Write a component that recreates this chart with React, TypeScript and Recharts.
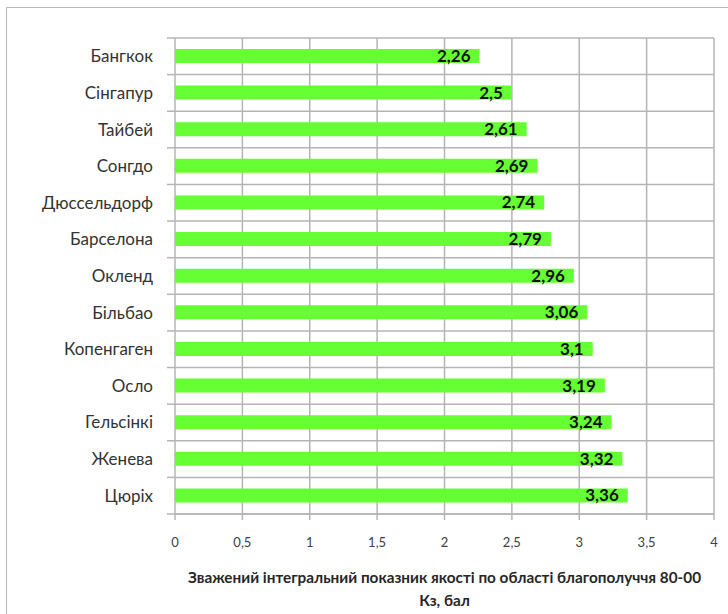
import {
  BarChart,
  Bar,
  XAxis,
  YAxis,
  CartesianGrid,
  LabelList,
  Label,
  usePlotArea,
} from "recharts";

const cities = [
  "Бангкок",
  "Сінгапур",
  "Тайбей",
  "Сонгдо",
  "Дюссельдорф",
  "Барселона",
  "Окленд",
  "Більбао",
  "Копенгаген",
  "Осло",
  "Гельсінкі",
  "Женева",
  "Цюріх",
];

const scores = [2.26, 2.5, 2.61, 2.69, 2.74, 2.79, 2.96, 3.06, 3.1, 3.19, 3.24, 3.32, 3.36];

const xTicks = [0, 0.5, 1, 1.5, 2, 2.5, 3, 3.5, 4];

const titleLines = [
  "Зважений інтегральний показник якості по області благополуччя 80-00",
  "Кз, бал",
];

const data = cities.map((city, i) => ({ city, score: scores[i] }));

const FONT = "Lato, 'Open Sans', sans-serif";
const GRID = "#b4b4b4";

// comma decimal separator
const fmt = (v: number | string) => String(v).replace(".", ",");

// grid lines between categories rather than through their centres
function bandEdges({ offset }: any) {
  const step = offset.height / cities.length;
  return Array.from({ length: cities.length + 1 }, (_, i) => offset.top + i * step);
}

// short outward ticks on the category axis, at the band edges
function CategoryTicks() {
  const area = usePlotArea();
  if (!area) return null;
  const step = area.height / cities.length;
  return (
    <g>
      {Array.from({ length: cities.length + 1 }, (_, i) => {
        const y = area.y + i * step;
        return (
          <line
            key={i}
            x1={area.x - 8}
            x2={area.x}
            y1={y}
            y2={y}
            stroke={GRID}
            strokeWidth={1.5}
          />
        );
      })}
    </g>
  );
}

function AxisTitle({ viewBox }: any) {
  const cx = viewBox.x + viewBox.width / 2;
  return (
    <g>
      {titleLines.map((line, i) => (
        <text
          key={i}
          x={cx}
          y={viewBox.y + 69 + i * 23}
          textAnchor="middle"
          fontFamily={FONT}
          fontSize={15.3}
          fontWeight={700}
          fill="#262626"
        >
          {line}
        </text>
      ))}
    </g>
  );
}

export default function App() {
  return (
    <div
      style={{
        position: "absolute",
        left: 0,
        top: 0,
        width: 728,
        height: 614,
        overflow: "hidden",
        background: "#fff",
      }}
    >
      <div
        style={{
          position: "absolute",
          left: 6,
          top: 7,
          width: 760,
          height: 640,
          border: "1.5px solid #b8b8b8",
        }}
      />
      <BarChart
        width={728}
        height={614}
        layout="vertical"
        data={data}
        margin={{ top: 38, right: 14, left: 0, bottom: 0 }}
        style={{ position: "absolute", left: 0, top: 0 }}
      >
        <CartesianGrid
          stroke={GRID}
          strokeWidth={1.5}
          horizontalCoordinatesGenerator={bandEdges}
        />
        <XAxis
          type="number"
          domain={[0, 4]}
          ticks={xTicks}
          tickFormatter={fmt}
          height={100}
          stroke={GRID}
          strokeWidth={1.5}
          tickSize={6}
          tickMargin={18}
          tick={{ fontFamily: FONT, fontSize: 13, fill: "#404040" }}
        >
          <Label content={<AxisTitle />} />
        </XAxis>
        <YAxis
          type="category"
          dataKey="city"
          width={175}
          axisLine={false}
          tickLine={false}
          tickMargin={16}
          tick={{ fontFamily: FONT, fontSize: 17, fill: "#333" }}
        />
        <CategoryTicks />
        <Bar dataKey="score" fill="#66ff33" barSize={14} isAnimationActive={false}>
          <LabelList
            dataKey="score"
            position="insideRight"
            offset={9}
            formatter={fmt}
            style={{ fontFamily: FONT, fontSize: 17, fontWeight: 700, fill: "#111" }}
          />
        </Bar>
      </BarChart>
    </div>
  );
}
